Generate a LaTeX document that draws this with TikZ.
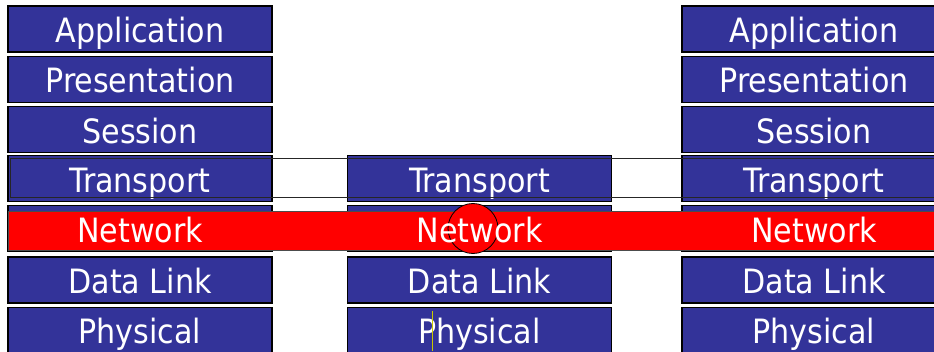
\documentclass[tikz,border=0pt]{standalone}
\usepackage{fontspec}
\setmainfont{DejaVu Sans Condensed}
\definecolor{layerblue}{HTML}{333399}
\definecolor{cursor}{HTML}{C8C800}
\begin{document}
\begin{tikzpicture}[x=1pt,y=1pt,
  layer/.style={draw=black, line width=1.2pt, fill=layerblue, minimum width=264pt, minimum height=46pt,
    inner sep=0pt, text=white, font=\fontsize{33.5}{33.5}\selectfont, text height=27.5pt, text depth=0pt},
  label/.style={text=white, font=\fontsize{33.5}{33.5}\selectfont, inner sep=0pt, text height=27.5pt, text depth=0pt}]
\useasboundingbox (0,0) rectangle (934,351);
% columns: L 140, M 479.5, R 814 ; rows y = 351 - pixel center
\foreach \n/\x in {L/140, M/479.5, R/814} {
  \node[layer] (\n trans) at (\x,172.4) {Transport};
  \node[layer] (\n net) at (\x,122.2) {};
  \node[layer] (\n dl) at (\x,71) {Data Link};
  \node[layer] (\n phys) at (\x,20.8) {Physical};
}
\foreach \n/\x in {L/140, R/814} {
  \node[layer] (\n app) at (\x,322) {Application};
  \node[layer] (\n pres) at (\x,271.8) {Presentation};
  \node[layer] (\n sess) at (\x,221.6) {Session};
}
% transport frame
\draw[draw=black!85, line width=0.9pt] (10,193) rectangle (945,154);
% red network bar
\draw[draw=black!70, line width=0.9pt, fill=red] (8,139.5) rectangle (945,100.5);
\node[circle, draw=black, line width=0.8pt, fill=red, minimum size=50pt, inner sep=0pt] (router) at (473,122.5) {};
\node[label] (Lnettext) at (140,122.2) {Network};
\node[label] (Mnettext) at (479.5,122.2) {Network};
\node[label] (Rnettext) at (814,122.2) {Network};
% text cursor
\coordinate (curtop) at (432,40);
\coordinate (curbot) at (432,0);
\draw[cursor, line width=0.9pt] (curtop) -- (curbot);
\end{tikzpicture}
\end{document}
